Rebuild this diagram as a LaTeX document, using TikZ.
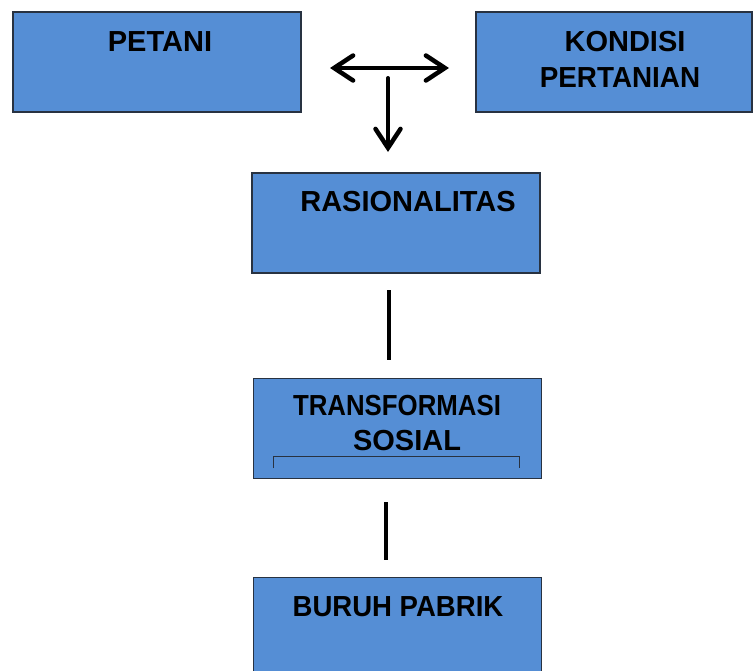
\documentclass[tikz,border=0pt]{standalone}
\usepackage{fontspec}
\setmainfont{Liberation Sans}
\usetikzlibrary{arrows.meta}
\definecolor{boxblue}{RGB}{85,142,213}
\definecolor{boxedge}{RGB}{40,50,65}

\begin{document}
\begin{tikzpicture}[x=1pt,y=-1pt,
        box/.style={draw=boxedge, line width=1.5pt, fill=boxblue, minimum width=288pt, minimum height=100pt, inner sep=0pt},
        lbl/.style={font=\bfseries\fontsize{29}{33}\selectfont, inner sep=0pt},
        link/.style={line width=4pt},
        barb/.style={line width=4pt, line cap=round, -{Straight Barb[length=19pt, width=25pt, line width=4.5pt, line cap=round]}}]
            \useasboundingbox (0, 0) rectangle (753, 670);
            %\draw[lightgray] (0, 0) grid[step=50] (753, 670);
            \node[box] (petani) at (157, 62) {};
            \node[box, minimum width=276pt] (kondisi) at (614, 62) {};
            \node[box] (rasio) at (396, 223) {};
            \node[box] (trans) at (397.5, 428.5) {};
            \node[box, minimum height=95pt] (buruh) at (397.5, 625) {};
            \node[lbl] (petanitxt) at (160, 42) {PETANI};
            \node[lbl] (kondisitxt) at (625, 42) {KONDISI};
            \node[lbl] (pertaniantxt) at (620, 78) {\scalebox{0.96}[1]{PERTANIAN}};
            \node[lbl] (rasiotxt) at (408, 202) {RASIONALITAS};
            \node[lbl] (transtxt) at (397, 406) {\scalebox{0.89}[1]{TRANSFORMASI}};
            \node[lbl] (sosialtxt) at (407, 441) {SOSIAL};
            \node[lbl] (buruhtxt) at (398, 607) {\scalebox{0.95}[1]{BURUH PABRIK}};
            \coordinate (left) at (330, 68);
            \coordinate (right) at (449, 68);
            \coordinate (mid) at (388, 78);
            \coordinate (down) at (388, 152);
            \draw[barb] (mid |- left) -- (left);
            \draw[barb] (mid |- left) -- (right);
            \draw[barb] (mid) -- (down);
            \draw[link] (389, 290) -- (389, 360);
            \draw[link] (386, 502) -- (386, 560);
            \draw[boxedge, line width=1pt] (273, 468) -- (273, 456) -- (519, 456) -- (519, 468);
        \end{tikzpicture}
\end{document}
